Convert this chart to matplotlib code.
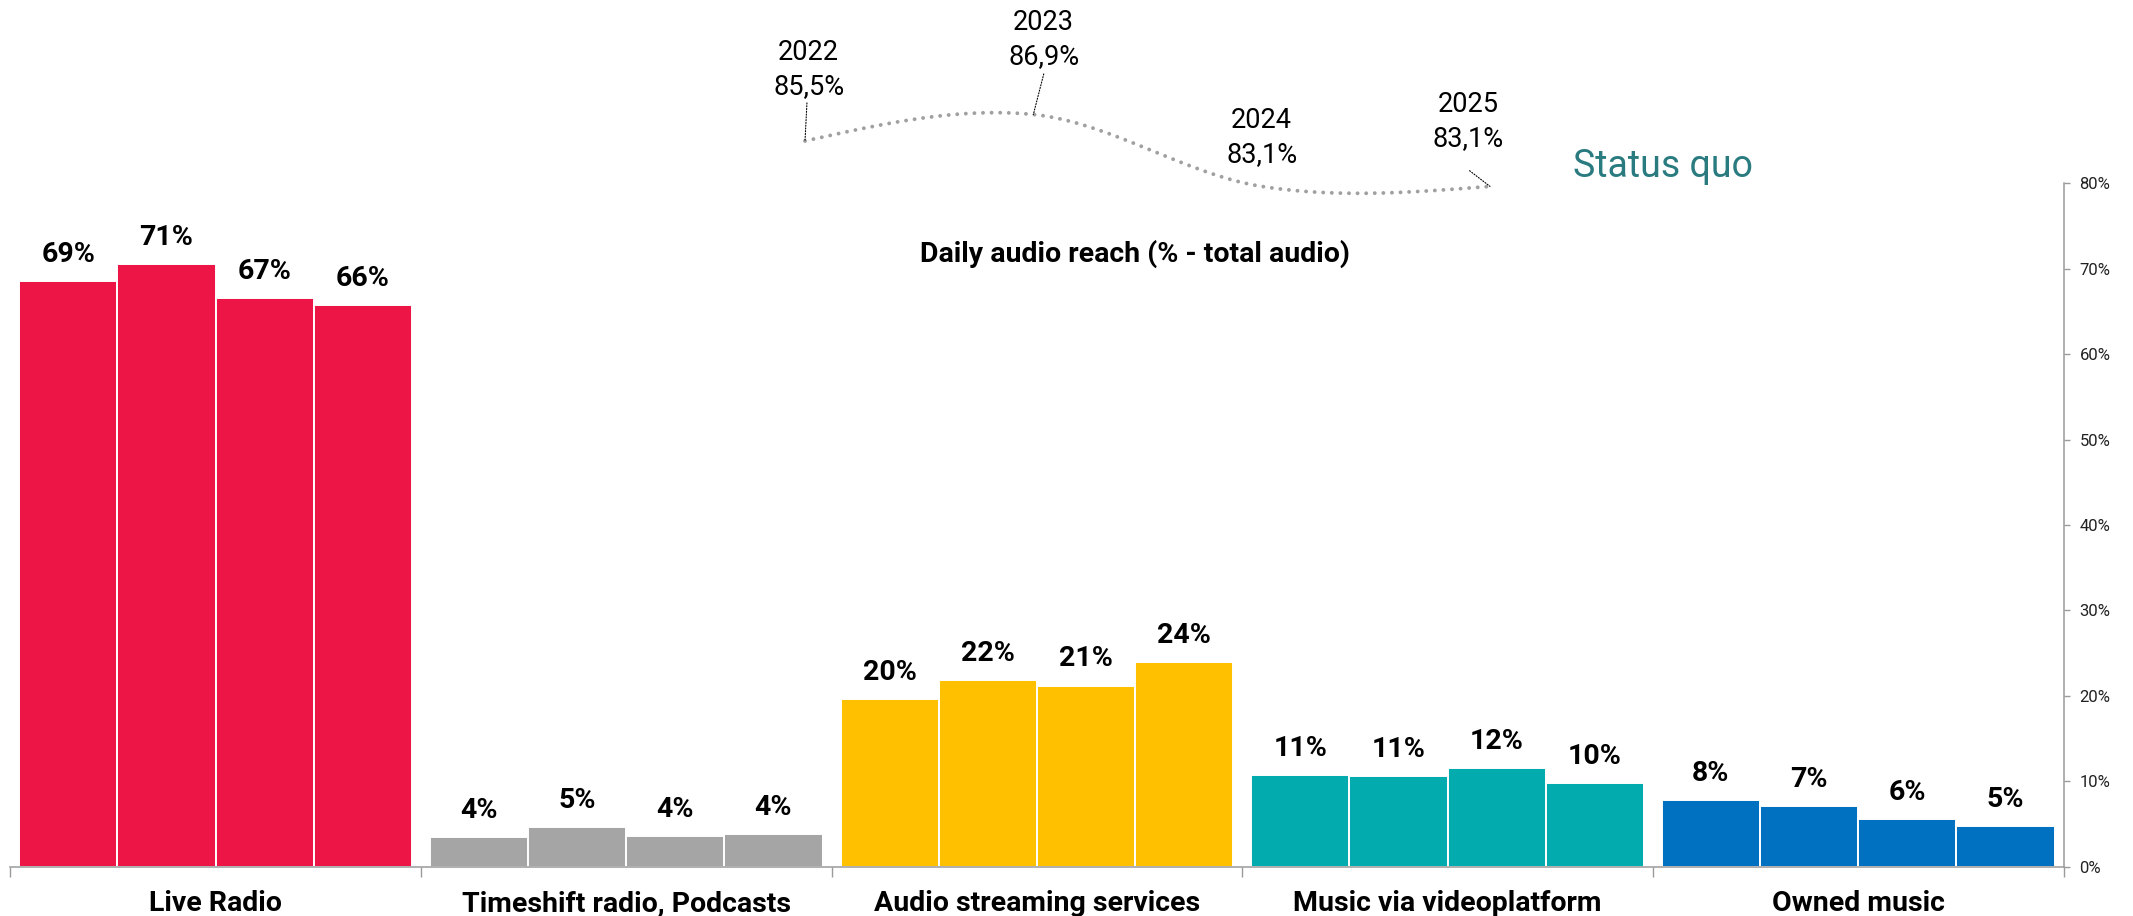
import numpy as np
import matplotlib
matplotlib.use("Agg")
import matplotlib.pyplot as plt
from matplotlib.ticker import FuncFormatter

plt.rcParams['font.family'] = ['Roboto', 'DejaVu Sans']

# audio usage per channel, 2022-2025
categories = ["Live Radio", "Timeshift radio, Podcasts", "Audio streaming services",
              "Music via videoplatform", "Owned music"]
live_radio = [68.6, 70.6, 66.6, 65.8]
timeshift = [3.5, 4.6, 3.6, 3.8]
streaming = [19.6, 21.8, 21.2, 23.9]
video = [10.7, 10.6, 11.5, 9.8]
owned = [7.8, 7.1, 5.6, 4.8]
colors = ["#ED1446", "#A5A5A5", "#FFC000", "#02ABAE", "#0070C0"]

# total daily audio reach
years = [2022, 2023, 2024, 2025]
reach = [85.5, 86.9, 83.1, 83.1]
year_label_offsets = [(2.7, 33.5), (7.5, 36), (0, 17.2), (-15.8, 28.7)]
leader_offsets = [(1.4, 27.4), (7.5, 29.2), None, (-14.7, 11.3)]

W, H = 2133, 916
fig = plt.figure(figsize=(W / 100, H / 100), dpi=100)

# bar chart
ax = fig.add_axes([10.2 / W, (H - 866.6) / H, (2063.5 - 10.2) / W, (866.6 - 183.3) / H])
series = [live_radio, timeshift, streaming, video, owned]
pad = 0.0219
bw = (1 - 2 * pad) / 4
for g, (vals, col) in enumerate(zip(series, colors)):
    xs = g - 0.5 + pad + bw * (np.arange(4) + 0.5)
    ax.bar(xs, vals, width=bw, color=col, edgecolor="white", linewidth=1.4)
    for x, v in zip(xs, vals):
        ax.annotate(f"{v:.0f}%", (x, v), xytext=(0, 13.7), textcoords="offset points",
                    ha="center", va="baseline", fontsize=20.5, fontweight="bold")

ax.set_xlim(-0.5, 4.5)
ax.set_ylim(0, 80)
for s in ["left", "top"]:
    ax.spines[s].set_visible(False)
for s in ["bottom", "right"]:
    ax.spines[s].set_color("#9a9a9a")
    ax.spines[s].set_linewidth(1.1)

ax.yaxis.tick_right()
ax.set_yticks(np.arange(0, 81, 10))
ax.yaxis.set_major_formatter(FuncFormatter(lambda v, p: f"{v:.0f}%"))
ax.tick_params(axis="y", direction="out", length=4.3, width=1, color="#9a9a9a",
               labelsize=12, labelcolor="#222222", pad=7.2)

ax.set_xticks(range(5))
ax.set_xticklabels(categories, fontsize=20.5, fontweight="bold")
ax.set_xticks(np.arange(-0.5, 4.6, 1), minor=True)
ax.tick_params(axis="x", which="major", length=0, pad=17)
ax.tick_params(axis="x", which="minor", length=7.2, width=1, color="#9a9a9a")


def smooth(x, y, n=200):
    # hermite curve, catmull-rom tangents inside, free ends
    x = np.asarray(x, float)
    y = np.asarray(y, float)
    m = np.zeros_like(y)
    m[1:-1] = (y[2:] - y[:-2]) / 2
    m[0] = (3 * (y[1] - y[0]) - m[1]) / 2
    m[-1] = (3 * (y[-1] - y[-2]) - m[-2]) / 2
    xo, yo = [], []
    for i in range(len(x) - 1):
        t = np.linspace(0, 1, n)
        h00 = 2 * t**3 - 3 * t**2 + 1
        h10 = t**3 - 2 * t**2 + t
        h01 = -2 * t**3 + 3 * t**2
        h11 = t**3 - t**2
        xo.append(x[i] + t * (x[i + 1] - x[i]))
        yo.append(h00 * y[i] + h10 * m[i] + h01 * y[i + 1] + h11 * m[i + 1])
    return np.concatenate(xo), np.concatenate(yo)


# reach curve on top
ax2 = fig.add_axes([805 / W, (H - 186.4) / H, 685 / W, (186.4 - 114.5) / H])
ax2.set_xlim(years[0], years[-1])
ax2.set_ylim(min(reach), max(reach))
ax2.axis("off")
cx, cy = smooth(years, reach)
ax2.plot(cx, cy, color="#a0a0a0", lw=2.8, linestyle=(0, (0.01, 2.2)),
         dash_capstyle="round", clip_on=False)

for yr, val, (dx, dy), lead in zip(years, reach, year_label_offsets, leader_offsets):
    ax2.annotate(f"{val:.1f}%".replace(".", ","), (yr, val), xytext=(dx, dy),
                 textcoords="offset points", ha="center", va="baseline", fontsize=19.5,
                 annotation_clip=False)
    ax2.annotate(str(yr), (yr, val), xytext=(dx, dy + 25), textcoords="offset points",
                 ha="center", va="baseline", fontsize=19.5, annotation_clip=False)
    if lead is not None:
        ax2.annotate("", (yr, val), xytext=lead, textcoords="offset points",
                     annotation_clip=False,
                     arrowprops=dict(arrowstyle="-", linestyle=(0, (1, 1.5)), lw=0.8,
                                     color="black", shrinkA=0, shrinkB=0))

fig.text(1573 / W, (H - 177.3) / H, "Status quo", ha="left", va="baseline",
         fontsize=27, color="#2A7B80")
fig.text(1135 / W, (H - 262) / H, "Daily audio reach (% - total audio)", ha="center",
         va="baseline", fontsize=20.5, fontweight="bold")

fig.savefig("out.png", dpi=100)
